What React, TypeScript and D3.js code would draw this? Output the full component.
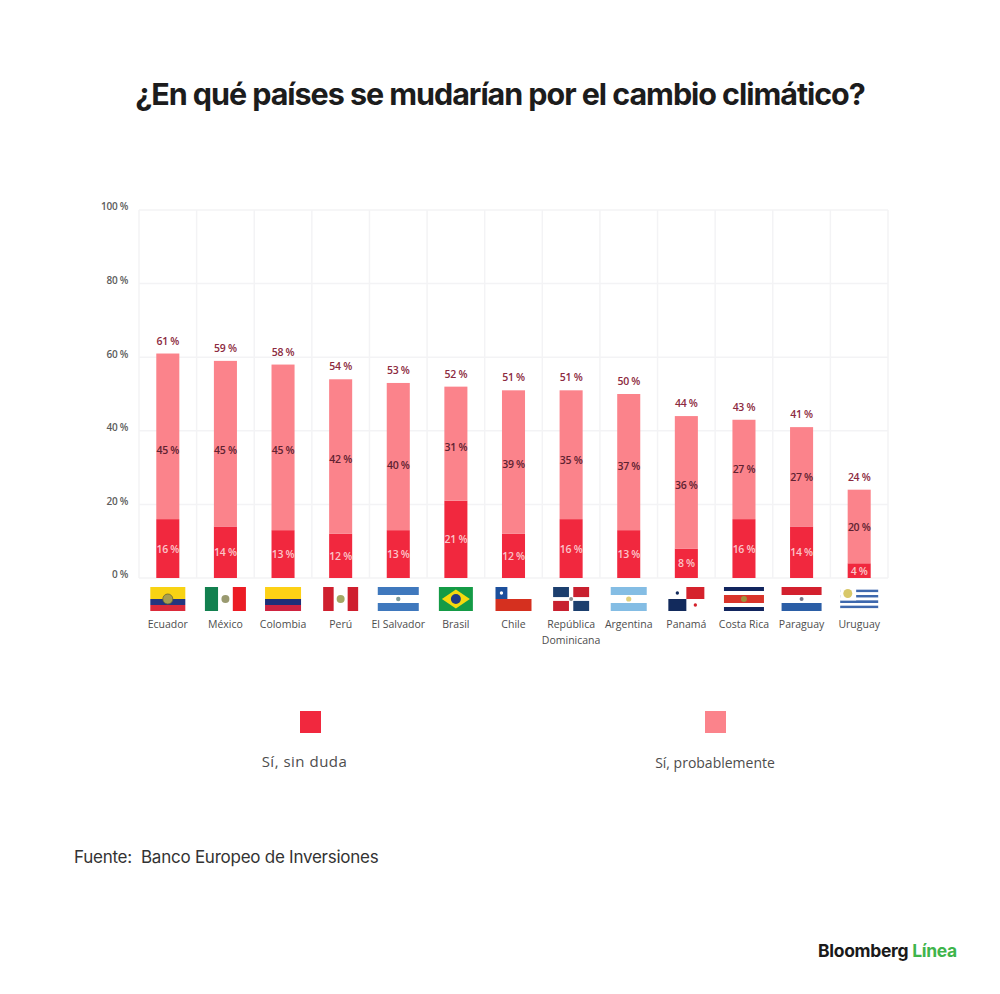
import { useEffect, useRef } from 'react';
import * as d3 from 'd3';

const countries = ['Ecuador', 'México', 'Colombia', 'Perú', 'El Salvador', 'Brasil', 'Chile', 'República Dominicana', 'Argentina', 'Panamá', 'Costa Rica', 'Paraguay', 'Uruguay'];
const sinDuda = [16, 14, 13, 12, 13, 21, 12, 16, 13, 8, 16, 14, 4];
const probablemente = [45, 45, 45, 42, 40, 31, 39, 35, 37, 36, 27, 27, 20];
const totals = [61, 59, 58, 54, 53, 52, 51, 51, 50, 44, 43, 41, 24];
const yTicks = [0, 20, 40, 60, 80, 100];

// the labels in the light segment are not quite centred in the original
const midNudge = [14, 6, 3, 2, 8, 3, 2, 5, 4, 3, 0, 0, 1];
const flagWidths = [35, 41, 36, 35, 41, 34, 36, 36, 36, 36, 40, 40, 38];

const colors = {
  dark: '#f1283e',
  light: '#fb838b',
  grid: '#f3f3f5',
  total: '#8c2a40',
  mid: '#5f2231',
  tick: '#5c5c5c',
  label: '#4d4d4d',
  green: '#3fb54c',
};

const labelFont = '"Open Sans", sans-serif';
const plot = { left: 139, right: 888, top: 210, bottom: 578 };
const flagTop = 587;
const flagH = 24;

const x = d3
  .scaleBand<string>()
  .domain(countries)
  .range([plot.left, plot.right])
  .paddingInner(0.6)
  .paddingOuter(0.3);
const y = d3.scaleLinear().domain([0, 100]).range([plot.bottom, plot.top]);

const rows = countries.map((c, i) => ({ country: c, sinDuda: sinDuda[i], probablemente: probablemente[i] }));
const stacked = d3.stack<any>().keys(['sinDuda', 'probablemente'])(rows);

function Stripes({ w, list }: { w: number; list: [string, number][] }) {
  const total = d3.sum(list, d => d[1]);
  const s = d3.scaleLinear().domain([0, total]).range([0, flagH]);
  let acc = 0;
  return (
    <>
      {list.map(([c, n], i) => {
        const el = <rect key={i} x={0} y={s(acc)} width={w} height={s(n)} fill={c} />;
        acc += n;
        return el;
      })}
    </>
  );
}

function Flag({ name, w }: { name: string; w: number }) {
  const h = flagH;
  if (name === 'Ecuador')
    return (
      <>
        <Stripes w={w} list={[['#f8d313', 2], ['#24367f', 1], ['#dc2a3a', 1]]} />
        <circle cx={w / 2} cy={h / 2} r={5} fill="#a8a050" stroke="#6a6a30" strokeWidth={0.8} />
      </>
    );
  if (name === 'México')
    return (
      <>
        <rect width={w * 0.32} height={h} fill="#12804f" />
        <rect x={w * 0.68} width={w * 0.32} height={h} fill="#ec1c24" />
        <circle cx={w / 2} cy={h / 2} r={4} fill="#9a9a70" />
      </>
    );
  if (name === 'Colombia') return <Stripes w={w} list={[['#fdd116', 2], ['#1f2f78', 1], ['#cf2340', 1]]} />;
  if (name === 'Perú')
    return (
      <>
        <rect width={w * 0.3} height={h} fill="#cf1f2e" />
        <rect x={w * 0.7} width={w * 0.3} height={h} fill="#cf1f2e" />
        <circle cx={w / 2} cy={h / 2} r={4} fill="#a4a864" />
      </>
    );
  if (name === 'El Salvador')
    return (
      <>
        <rect y={0} width={w} height={h / 3} fill="#3f78bd" />
        <rect y={(2 * h) / 3} width={w} height={h / 3} fill="#3f78bd" />
        <circle cx={w / 2} cy={h / 2} r={2.2} fill="#7d9a9a" />
      </>
    );
  if (name === 'Brasil')
    return (
      <>
        <rect width={w} height={h} fill="#149b46" />
        <path d={`M${w / 2},2.5L${w - 3},${h / 2}L${w / 2},${h - 2.5}L3,${h / 2}Z`} fill="#f5d90e" />
        <circle cx={w / 2} cy={h / 2} r={5} fill="#1f3b86" />
      </>
    );
  if (name === 'Chile')
    return (
      <>
        <rect y={h / 2} width={w} height={h / 2} fill="#d5301f" />
        <rect width={w * 0.33} height={h / 2} fill="#1c4f9c" />
        <circle cx={w * 0.165} cy={h / 4} r={1.7} fill="#fff" />
      </>
    );
  if (name === 'República Dominicana')
    return (
      <>
        <rect width={w * 0.44} height={h * 0.42} fill="#1c3f6e" />
        <rect x={w * 0.56} width={w * 0.44} height={h * 0.42} fill="#c8202f" />
        <rect y={h * 0.58} width={w * 0.44} height={h * 0.42} fill="#c8202f" />
        <rect x={w * 0.56} y={h * 0.58} width={w * 0.44} height={h * 0.42} fill="#1c3f6e" />
        <circle cx={w / 2} cy={h / 2} r={2} fill="#8a8f90" />
      </>
    );
  if (name === 'Argentina')
    return (
      <>
        <rect width={w} height={h / 3} fill="#84bde4" />
        <rect y={(2 * h) / 3} width={w} height={h / 3} fill="#84bde4" />
        <circle cx={w / 2} cy={h / 2} r={2.6} fill="#e0cf7c" />
      </>
    );
  if (name === 'Panamá')
    return (
      <>
        <rect x={w / 2} width={w / 2} height={h / 2} fill="#d5222c" />
        <rect y={h / 2} width={w / 2} height={h / 2} fill="#122a5c" />
        <circle cx={w / 4} cy={h / 4} r={1.7} fill="#122a5c" />
        <circle cx={w * 0.75} cy={h * 0.75} r={1.7} fill="#d5222c" />
      </>
    );
  if (name === 'Costa Rica')
    return (
      <>
        <Stripes w={w} list={[['#12255e', 1], ['#ffffff', 1], ['#d9342b', 2], ['#ffffff', 1], ['#12255e', 1]]} />
        <circle cx={w / 2} cy={h / 2} r={3} fill="#a08f3e" />
      </>
    );
  if (name === 'Paraguay')
    return (
      <>
        <Stripes w={w} list={[['#d3202e', 1], ['#ffffff', 1], ['#2b5ea6', 1]]} />
        <circle cx={w / 2} cy={h / 2} r={2} fill="#77778a" />
      </>
    );
  // Uruguay
  return (
    <>
      <Stripes
        w={w}
        list={[['#ffffff', 1], ['#3e68ad', 1], ['#ffffff', 1], ['#3e68ad', 1], ['#ffffff', 1], ['#3e68ad', 1], ['#ffffff', 1], ['#3e68ad', 1], ['#ffffff', 1]]}
      />
      <rect width={w * 0.42} height={h * 0.56} fill="#fff" />
      <circle cx={w * 0.2} cy={h * 0.27} r={4.5} fill="#d8c86a" />
    </>
  );
}

export default function App() {
  const axisRef = useRef<SVGGElement>(null);

  useEffect(() => {
    const g = d3.select(axisRef.current);
    g.call(
      d3
        .axisLeft(y)
        .tickValues(yTicks)
        .tickSize(0)
        .tickPadding(11)
        .tickFormat(d => `${d} %`) as any
    );
    g.select('.domain').remove();
    g.selectAll('text')
      .attr('font-family', labelFont)
      .attr('font-size', 10)
      .attr('font-weight', 600)
      .attr('letter-spacing', -0.3)
      .attr('fill', colors.tick)
      .attr('dy', '-0.02em');
  }, []);

  const bandEdges = d3.range(countries.length + 1).map(i => plot.left + (i * (plot.right - plot.left)) / countries.length);

  return (
    <svg width={1000} height={994} style={{ position: 'absolute', left: 0, top: 0, background: '#fff' }}>
      <text
        x={500}
        y={105}
        textAnchor="middle"
        fontFamily="Inter, sans-serif"
        fontWeight={700}
        fontSize={30.5}
        letterSpacing={-1.05}
        fill="#1c1c1c"
      >
        ¿En qué países se mudarían por el cambio climático?
      </text>

      <g stroke={colors.grid} strokeWidth={1.5}>
        {yTicks.map(t => (
          <line key={t} x1={plot.left} x2={plot.right} y1={y(t)} y2={y(t)} />
        ))}
        {bandEdges.map(e => (
          <line key={e} x1={e} x2={e} y1={plot.top} y2={plot.bottom} />
        ))}
      </g>
      <g ref={axisRef} transform={`translate(${plot.left},0)`} />

      {stacked.map(layer => (
        <g key={layer.key} fill={layer.key === 'sinDuda' ? colors.dark : colors.light}>
          {layer.map((d, i) => (
            <rect key={i} x={x(countries[i])} width={x.bandwidth()} y={y(d[1])} height={y(d[0]) - y(d[1])} />
          ))}
        </g>
      ))}

      <g fontFamily={labelFont} fontSize={10.5} fontWeight={600} textAnchor="middle" letterSpacing={-0.3}>
        {countries.map((c, i) => {
          const cx = x(c)! + x.bandwidth() / 2;
          return (
            <g key={c}>
              <text x={cx} y={y(totals[i]) - 9} fill={colors.total}>{`${totals[i]} %`}</text>
              <text
                x={cx}
                y={y(sinDuda[i] + probablemente[i] / 2) + midNudge[i] + 4}
                fill={colors.mid}
              >{`${probablemente[i]} %`}</text>
              <text x={cx} y={y(sinDuda[i] / 2) + 4} fill="#fbc4c8">{`${sinDuda[i]} %`}</text>
            </g>
          );
        })}
      </g>

      {countries.map((c, i) => {
        const cx = x(c)! + x.bandwidth() / 2;
        return (
          <g key={c} transform={`translate(${cx - flagWidths[i] / 2},${flagTop})`}>
            <Flag name={c} w={flagWidths[i]} />
          </g>
        );
      })}

      <g fontFamily={labelFont} fontSize={10.5} textAnchor="middle" fill={colors.label}>
        {countries.map(c => {
          const cx = x(c)! + x.bandwidth() / 2;
          if (c === 'República Dominicana')
            return (
              <text key={c} x={cx}>
                <tspan x={cx} y={628}>República</tspan>
                <tspan x={cx} y={644}>Dominicana</tspan>
              </text>
            );
          return (
            <text key={c} x={cx} y={628}>
              {c}
            </text>
          );
        })}
      </g>

      <rect x={300} y={711} width={21} height={22} fill={colors.dark} />
      <text x={304.5} y={767} textAnchor="middle" fontFamily={labelFont} fontSize={15} letterSpacing={0.5} fill={colors.label}>
        Sí, sin duda
      </text>
      <rect x={705} y={711} width={21} height={22} fill={colors.light} />
      <text x={715} y={768} textAnchor="middle" fontFamily={labelFont} fontSize={14} fill={colors.label}>
        Sí, probablemente
      </text>

      <text x={74} y={863} fontFamily="Inter, sans-serif" fontSize={17} letterSpacing={-0.25} fill="#333" xmlSpace="preserve">
        Fuente:  Banco Europeo de Inversiones
      </text>

      <text x={818} y={957} fontFamily="Inter, sans-serif" fontWeight={700} fontSize={17.5} letterSpacing={-0.3} fill="#1a1a1a">
        Bloomberg <tspan fill={colors.green}>Línea</tspan>
      </text>
    </svg>
  );
}
